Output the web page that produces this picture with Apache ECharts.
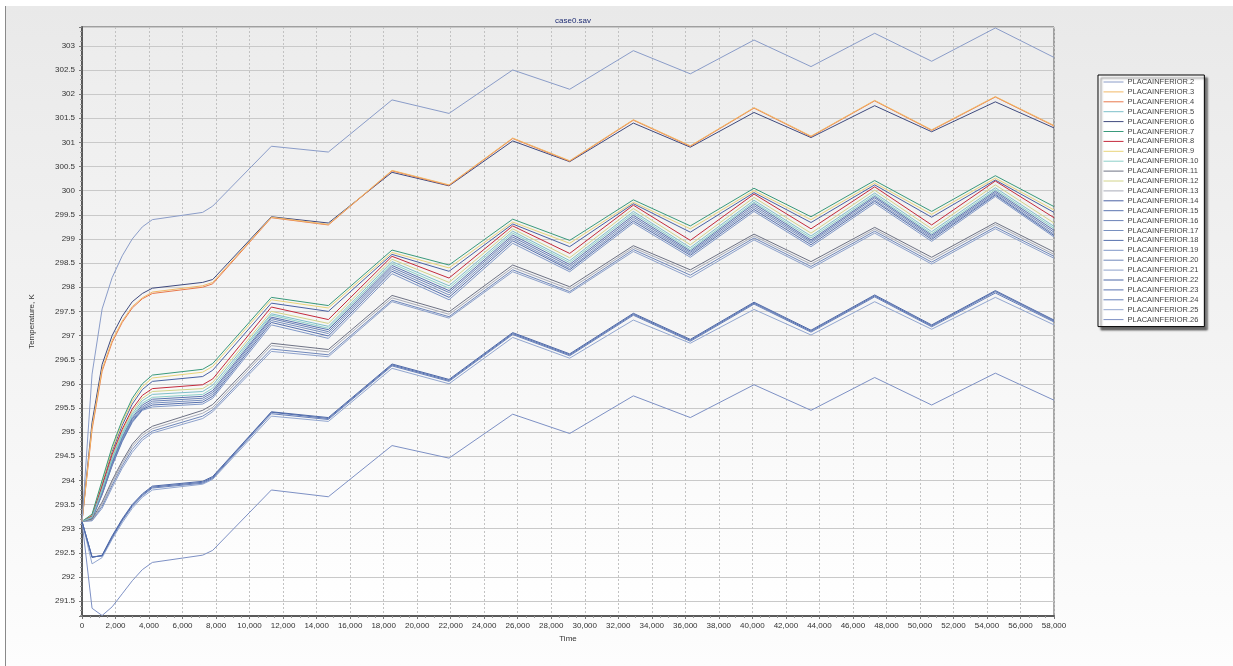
<!DOCTYPE html>
<html>
<head>
<meta charset="utf-8">
<script src="https://cdn.jsdelivr.net/npm/echarts@6/dist/echarts.min.js"></script>
<style>
html,body{margin:0;padding:0;background:#fff;}
#chart{width:1233px;height:666px;}
</style>
</head>
<body>
<div id="chart"></div>
<script>
// Time axis (s)
var times = [0, 600, 1200, 1800, 2400, 3000, 3600, 4200, 7200, 7800, 11300, 14700, 18500, 21900, 25700, 29100, 32900, 36300, 40100, 43500, 47300, 50700, 54500, 58000];

// Temperatures (K)
var p2  = [293.15, 296.2, 297.55, 298.2, 298.65, 299.0, 299.25, 299.4, 299.55, 299.68, 300.92, 300.8, 301.88, 301.6, 302.5, 302.1, 302.9, 302.42, 303.12, 302.57, 303.26, 302.68, 303.37, 302.76];
var p3  = [293.15, 295.1, 296.3, 296.9, 297.3, 297.6, 297.78, 297.9, 298.03, 298.1, 299.45, 299.3, 300.42, 300.12, 301.09, 300.62, 301.47, 300.93, 301.72, 301.13, 301.87, 301.26, 301.95, 301.35];
var p4  = [293.15, 295.05, 296.26, 296.86, 297.27, 297.57, 297.76, 297.87, 298.0, 298.07, 299.44, 299.29, 300.41, 300.11, 301.08, 300.61, 301.46, 300.92, 301.71, 301.12, 301.86, 301.25, 301.94, 301.34];
var p5  = [293.15, 293.24, 293.82, 294.46, 294.97, 295.38, 295.65, 295.78, 295.84, 295.97, 297.45, 297.19, 298.53, 298.03, 299.16, 298.55, 299.57, 298.82, 299.8, 299.06, 299.95, 299.15, 300.06, 299.26];
var p6  = [293.15, 295.2, 296.4, 297.0, 297.4, 297.7, 297.87, 297.98, 298.1, 298.16, 299.46, 299.33, 300.38, 300.1, 301.03, 300.6, 301.4, 300.9, 301.62, 301.1, 301.76, 301.22, 301.84, 301.3];
var p7  = [293.15, 293.3, 294.0, 294.7, 295.25, 295.7, 296.0, 296.18, 296.3, 296.42, 297.79, 297.62, 298.77, 298.46, 299.41, 298.97, 299.81, 299.27, 300.05, 299.46, 300.21, 299.57, 300.31, 299.67];
var p8  = [293.15, 293.26, 293.88, 294.54, 295.06, 295.48, 295.76, 295.9, 295.98, 296.1, 297.59, 297.33, 298.64, 298.19, 299.27, 298.7, 299.7, 298.97, 299.93, 299.21, 300.08, 299.29, 300.2, 299.44];
var p9  = [293.15, 293.28, 293.96, 294.65, 295.2, 295.64, 295.94, 296.12, 296.24, 296.36, 297.74, 297.57, 298.72, 298.4, 299.35, 298.91, 299.76, 299.21, 300.0, 299.4, 300.16, 299.51, 300.26, 299.6];
var p10 = [293.15, 293.23, 293.79, 294.42, 294.93, 295.34, 295.6, 295.72, 295.78, 295.91, 297.42, 297.15, 298.49, 297.98, 299.12, 298.51, 299.53, 298.78, 299.76, 299.02, 299.91, 299.11, 300.02, 299.22];
var p11 = [293.15, 293.2, 293.55, 294.0, 294.4, 294.75, 294.98, 295.12, 295.45, 295.57, 296.84, 296.71, 297.83, 297.49, 298.46, 298.01, 298.86, 298.36, 299.1, 298.53, 299.24, 298.62, 299.34, 298.73];
var p12 = [293.15, 293.25, 293.85, 294.5, 295.02, 295.43, 295.7, 295.84, 295.9, 296.03, 297.5, 297.25, 298.58, 298.1, 299.21, 298.61, 299.63, 298.88, 299.86, 299.12, 300.01, 299.21, 300.12, 299.33];
var p13 = [293.15, 293.18, 293.5, 293.95, 294.35, 294.7, 294.93, 295.07, 295.39, 295.51, 296.79, 296.66, 297.78, 297.44, 298.41, 297.96, 298.82, 298.31, 299.06, 298.48, 299.2, 298.57, 299.3, 298.68];
var p14 = [293.15, 293.27, 293.92, 294.6, 295.14, 295.58, 295.88, 296.05, 296.15, 296.28, 297.67, 297.5, 298.68, 298.33, 299.31, 298.84, 299.73, 299.14, 299.96, 299.34, 300.12, 299.45, 300.22, 299.55];
var p15 = [293.15, 293.22, 293.77, 294.39, 294.9, 295.3, 295.56, 295.68, 295.74, 295.86, 297.38, 297.12, 298.45, 297.93, 299.08, 298.47, 299.49, 298.75, 299.73, 298.98, 299.88, 299.08, 299.99, 299.18];
var p16 = [293.15, 293.22, 293.75, 294.36, 294.87, 295.27, 295.52, 295.64, 295.7, 295.82, 297.35, 297.08, 298.41, 297.89, 299.04, 298.43, 299.45, 298.72, 299.69, 298.95, 299.85, 299.05, 299.96, 299.14];
var p17 = [293.15, 293.21, 293.73, 294.34, 294.84, 295.24, 295.49, 295.6, 295.66, 295.78, 297.31, 297.04, 298.37, 297.84, 299.0, 298.39, 299.41, 298.69, 299.65, 298.92, 299.81, 299.02, 299.93, 299.1];
var p18 = [293.15, 293.21, 293.71, 294.32, 294.82, 295.22, 295.47, 295.56, 295.62, 295.74, 297.27, 296.99, 298.33, 297.79, 298.96, 298.36, 299.37, 298.66, 299.61, 298.88, 299.78, 298.99, 299.91, 299.07];
var p19 = [293.15, 293.2, 293.7, 294.3, 294.8, 295.2, 295.45, 295.52, 295.58, 295.7, 297.22, 296.94, 298.28, 297.74, 298.91, 298.32, 299.33, 298.62, 299.57, 298.84, 299.74, 298.95, 299.88, 299.04];
var p20 = [293.15, 293.17, 293.46, 293.9, 294.3, 294.64, 294.88, 295.02, 295.33, 295.46, 296.72, 296.6, 297.73, 297.39, 298.36, 297.91, 298.78, 298.25, 299.02, 298.43, 299.16, 298.52, 299.25, 298.64];
var p21 = [293.15, 293.16, 293.42, 293.85, 294.25, 294.58, 294.83, 294.98, 295.28, 295.42, 296.67, 296.56, 297.7, 297.36, 298.32, 297.88, 298.74, 298.2, 298.98, 298.39, 299.12, 298.48, 299.21, 298.6];
var p22 = [293.15, 292.4, 292.45, 292.85, 293.2, 293.5, 293.72, 293.88, 293.98, 294.08, 295.42, 295.3, 296.41, 296.09, 297.06, 296.62, 297.46, 296.92, 297.69, 297.11, 297.84, 297.22, 297.93, 297.32];
var p23 = [293.15, 292.41, 292.44, 292.83, 293.18, 293.48, 293.7, 293.86, 293.96, 294.06, 295.41, 295.28, 296.39, 296.07, 297.04, 296.6, 297.44, 296.9, 297.67, 297.09, 297.82, 297.2, 297.91, 297.3];
var p24 = [293.15, 292.42, 292.43, 292.81, 293.16, 293.46, 293.68, 293.84, 293.94, 294.04, 295.38, 295.26, 296.37, 296.05, 297.02, 296.58, 297.42, 296.88, 297.65, 297.07, 297.8, 297.18, 297.88, 297.28];
var p25 = [293.15, 292.27, 292.4, 292.78, 293.12, 293.42, 293.65, 293.8, 293.92, 294.02, 295.33, 295.22, 296.32, 296.0, 296.96, 296.53, 297.32, 296.84, 297.54, 297.01, 297.7, 297.13, 297.79, 297.22];
var p26 = [293.15, 291.35, 291.2, 291.38, 291.65, 291.92, 292.15, 292.3, 292.45, 292.55, 293.8, 293.66, 294.72, 294.46, 295.37, 294.97, 295.75, 295.3, 295.98, 295.45, 296.13, 295.56, 296.22, 295.66];

var seriesNames = ['PLACAINFERIOR.2','PLACAINFERIOR.3','PLACAINFERIOR.4','PLACAINFERIOR.5','PLACAINFERIOR.6','PLACAINFERIOR.7','PLACAINFERIOR.8','PLACAINFERIOR.9','PLACAINFERIOR.10','PLACAINFERIOR.11','PLACAINFERIOR.12','PLACAINFERIOR.13','PLACAINFERIOR.14','PLACAINFERIOR.15','PLACAINFERIOR.16','PLACAINFERIOR.17','PLACAINFERIOR.18','PLACAINFERIOR.19','PLACAINFERIOR.20','PLACAINFERIOR.21','PLACAINFERIOR.22','PLACAINFERIOR.23','PLACAINFERIOR.24','PLACAINFERIOR.25','PLACAINFERIOR.26'];
var seriesValues = [p2,p3,p4,p5,p6,p7,p8,p9,p10,p11,p12,p13,p14,p15,p16,p17,p18,p19,p20,p21,p22,p23,p24,p25,p26];
var seriesColors = ['#8a9cc8','#f2b866','#e8784c','#7dbfc9','#3f4a7e','#3a9a7c','#c42a3c','#e9d47a','#8ccfc8','#6e7284','#d2d48a','#a9acb8','#4a62a4','#5b74b0','#6a82b8','#7890c0','#5670ae','#8098c8','#7088bb','#8ea2cc','#4d68a8','#5a74b2','#6680bb','#93a7d0','#7d90c4'];

var chart = echarts.init(document.getElementById('chart'), null, {renderer: 'canvas'});
var FONT = 'Liberation Sans';

var series = seriesNames.map(function (name, i) {
  return {
    name: name,
    type: 'line',
    symbol: 'none',
    animation: false,
    lineStyle: {width: 1, color: seriesColors[i]},
    itemStyle: {color: seriesColors[i]},
    z: 30 - i,
    data: times.map(function (t, k) { return [t, seriesValues[i][k]]; })
  };
});

function thousands(v) {
  return String(v).replace(/\B(?=(\d{3})+(?!\d))/g, ',');
}

var option = {
  animation: false,
  graphic: [
    {type: 'rect', z: -100, silent: true, shape: {x: 5, y: 6, width: 1228, height: 660},
     style: {fill: new echarts.graphic.LinearGradient(0, 0, 0, 1, [{offset: 0, color: '#e9e9e9'}, {offset: 1, color: '#fdfdfd'}])}},
    {type: 'line', z: -99, silent: true, shape: {x1: 5.5, y1: 6, x2: 5.5, y2: 666}, style: {stroke: '#8a8a8a', lineWidth: 1}}
  ],
  title: {
    text: 'case0.sav',
    left: 568, top: 12, textAlign: 'center',
    textStyle: {fontFamily: FONT, fontSize: 8, fontWeight: 'normal', color: '#1f2d74'}
  },
  legend: {
    orient: 'vertical',
    left: 1098, top: 75,
    padding: [3, 6, 3, 5],
    itemWidth: 20, itemHeight: 8, itemGap: 1.9,
    backgroundColor: '#ffffff',
    borderColor: '#000000', borderWidth: 1, borderRadius: 0,
    shadowColor: 'rgba(0,0,0,0.55)', shadowOffsetX: 3, shadowOffsetY: 3, shadowBlur: 2,
    itemStyle: {color: 'rgba(0,0,0,0)', borderColor: 'rgba(0,0,0,0)', borderWidth: 0, opacity: 0},
    lineStyle: {width: 1},
    textStyle: {fontFamily: FONT, fontSize: 7.5, color: '#444', padding: [0, 0, 0, -1]},
    data: seriesNames
  },
  grid: {
    left: 82, right: 179, top: 27, bottom: 50,
    show: true,
    backgroundColor: new echarts.graphic.LinearGradient(0, 0, 0, 1, [{offset: 0, color: '#ececec'}, {offset: 1, color: '#ffffff'}]),
    borderColor: '#555', borderWidth: 1
  },
  xAxis: {
    type: 'value',
    min: 0, max: 58000, interval: 2000,
    name: 'Time', nameLocation: 'middle', nameGap: 18,
    nameTextStyle: {fontFamily: FONT, fontSize: 8, color: '#333'},
    axisLine: {show: true, lineStyle: {color: '#5a5a5a', width: 2}},
    axisTick: {show: true, length: 3, lineStyle: {color: '#777'}},
    minorTick: {show: true, splitNumber: 4, length: 2, lineStyle: {color: '#999'}},
    axisLabel: {fontFamily: FONT, fontSize: 8, color: '#333', margin: 6, formatter: thousands},
    splitLine: {show: true, lineStyle: {color: '#c2c2c2', type: [2, 2], width: 1}}
  },
  yAxis: {
    type: 'value',
    min: 291.19, max: 303.39,
    splitNumber: 24, minInterval: 0.5, maxInterval: 0.5,
    name: 'Temperature, K', nameLocation: 'middle', nameGap: 46, nameRotate: 90,
    nameTextStyle: {fontFamily: FONT, fontSize: 8, color: '#333'},
    axisLine: {show: true, lineStyle: {color: '#5a5a5a', width: 2}},
    axisTick: {show: true, length: 3, lineStyle: {color: '#777'}},
    minorTick: {show: true, splitNumber: 5, length: 2, lineStyle: {color: '#999'}},
    axisLabel: {fontFamily: FONT, fontSize: 8, color: '#333', margin: 7, showMinLabel: false, showMaxLabel: false},
    splitLine: {show: true, lineStyle: {color: '#c9c9c9', width: 1}}
  },
  series: series
};
chart.setOption(option);
</script>
</body>
</html>
